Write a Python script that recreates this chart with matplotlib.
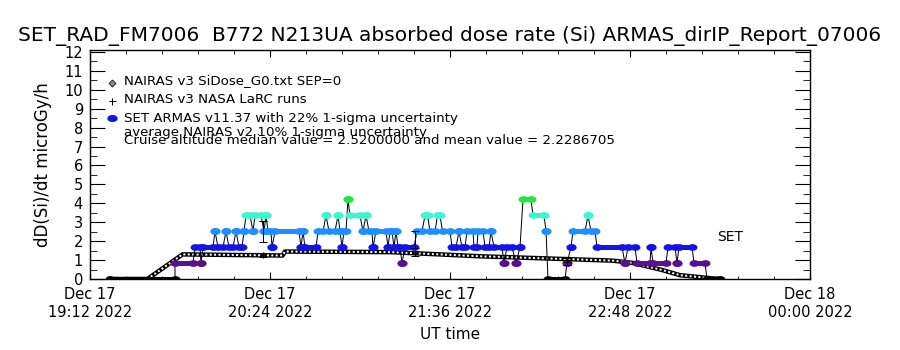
import numpy as np
import matplotlib
matplotlib.use("Agg")
import matplotlib.pyplot as plt
import matplotlib.dates as mdates
from matplotlib.path import Path
from datetime import datetime, timedelta

# ------------------------------------------------------------
# data (minutes after 2022-12-17 19:12 UT)
# ------------------------------------------------------------
t0 = datetime(2022, 12, 17, 19, 12)

# NAIRAS v3 SiDose_G0 curve
nairas_min = [7, 23, 37, 77, 78, 120, 156, 190.8, 209, 217, 229, 236, 249, 253]
nairas_val = [0, 0, 1.30, 1.24, 1.45, 1.42, 1.20, 1.05, 0.97, 0.85, 0.47, 0.20, 0.03, 0]

# ARMAS quantised dose-rate levels
armas_levels = [0.0, 0.84, 1.68, 2.52, 3.36, 4.20]
level_colors = ['black', '#5a0f91', '#1414e6', '#1f8fff', '#3ef5cf', '#27e43f']

# ARMAS runs: start minute, end minute, level index
run_start = [8, 34, 42, 44.4, 45.2, 50, 51.2, 54.4, 55.6, 58.4, 59.6, 61.6, 62.4, 65.2,
             66, 69.6, 70.4, 71.2, 72.8, 74, 84.4, 85.2, 86, 91.2, 94.4, 95.6, 99.2,
             100, 100.8, 101.6, 103.2, 104, 109.2, 110.4, 111.6, 113.2, 114.4, 119.2,
             120, 121.6, 122.4, 123.2, 124.8, 126, 130.8, 134, 136, 139, 141, 144.8,
             147.6, 148.8, 150.8, 153.6, 155.2, 158, 160.4, 161.6, 165.6, 166.8, 170.4,
             172, 173.2, 177.2, 182.4, 183.2, 190.8, 192.4, 193.2, 199.2, 200.4, 202.8,
             214, 215.2, 218.8, 224.4, 225.2, 231.2, 234.8, 235.6, 241.6, 246.8]
run_end = [34, 41.2, 44, 44.4, 49.2, 50, 53.2, 54.4, 57.2, 58.4, 60.8, 61.6, 64, 65.2,
           68.4, 69.6, 70.4, 72.4, 72.8, 83.6, 84.4, 85.2, 90.4, 93.2, 94.4, 98, 99.2,
           100, 100.8, 102.4, 103.2, 108, 109.2, 110.4, 112.8, 113.2, 118.4, 119.2,
           120.8, 121.6, 122.4, 124, 124.8, 129.6, 132.8, 135, 138, 140, 144, 146.4,
           147.6, 150, 153.2, 154.8, 157.2, 159.6, 160.4, 164.8, 165.6, 168.8, 170.4,
           172, 176.4, 181.6, 182.4, 190, 190.8, 192.4, 198, 199.2, 202, 212.8,
           214, 218, 224, 224.4, 230.4, 234, 234.8, 240.8, 246, 252]
run_level = [0, 1, 2, 1, 2, 3, 2, 3, 2, 3, 2, 3, 4, 3,
             4, 3, 4, 3, 2, 3, 2, 3, 2, 3, 4, 3, 4,
             3, 2, 3, 5, 4, 3, 4, 3, 2, 3, 2,
             3, 2, 3, 2, 1, 2, 3, 4, 3, 4, 3, 2,
             3, 2, 3, 2, 3, 2, 3, 2, 1, 2, 1,
             2, 5, 4, 3, 0, 1, 2, 3, 4, 3, 2,
             1, 2, 1, 2, 1, 2, 1, 2, 1, 0]

# hourly points with error bars
avg_min = [69.2, 130, 190.8]
armas_avg = [2.49, 2.09, 0.95]
armas_err_frac = 0.22
larc_val = [1.27, 1.35, 1.00]
larc_err_frac = 0.10


def tdate(m):
    return mdates.date2num(t0 + timedelta(minutes=m))


PX = 72 / 100.0  # points per pixel at dpi=100

fig = plt.figure(figsize=(9, 3.5), dpi=100)
ax = fig.add_axes([0.1, 0.2029, 0.8, 0.6543])

# NAIRAS curve: black band with white dots for the checkered look
nx = [tdate(m) for m in nairas_min]
ax.plot(nx, nairas_val, color='black', lw=4.5 * PX, zorder=2, solid_capstyle='butt')
ax.plot(nx, nairas_val, color='white', lw=2 * PX, ls=(0, (1, 1.2)), zorder=2)

# ARMAS: thin black connecting line + coloured ellipses
th = np.linspace(0, 2 * np.pi, 40)
ellipse = Path(np.column_stack([1.6 * np.cos(th), np.sin(th)]))

lx, ly = [], []
for s, e, k in zip(run_start, run_end, run_level):
    v = armas_levels[k]
    lx += [tdate(s), tdate(e)]
    ly += [v, v]
ax.plot(lx, ly, color='black', lw=1 * PX, zorder=3)

for s, e, k in zip(run_start, run_end, run_level):
    v = armas_levels[k]
    c = level_colors[k]
    ax.plot([tdate(s), tdate(e)], [v, v], color=c, lw=5 * PX,
            solid_capstyle='round', zorder=4)
    ax.plot([tdate(s), tdate(e)], [v, v], ls='none', marker=ellipse,
            ms=8.5 * PX, mfc=c, mec=c, zorder=4)

# error bars
ax_t = [tdate(m) for m in avg_min]
ax.errorbar(ax_t, armas_avg, yerr=[armas_err_frac * v for v in armas_avg],
            fmt='none', ecolor='black', elinewidth=1 * PX, capsize=4 * PX,
            capthick=1 * PX, zorder=5)
ax.errorbar(ax_t, larc_val, yerr=[larc_err_frac * v for v in larc_val],
            fmt='+', color='black', ms=6 * PX, elinewidth=1 * PX,
            capsize=4 * PX, capthick=1 * PX, zorder=5)

# axes
ax.set_xlim(tdate(0), tdate(288))
ax.set_ylim(0, 12.1)
ax.set_yticks(range(0, 13))
ax.set_yticks(np.arange(0.5, 12.5, 1.0), minor=True)
ax.set_xticks([tdate(m) for m in range(0, 289, 72)])
ax.set_xticks([tdate(m) for m in np.arange(0, 288.1, 14.4)], minor=True)
ax.xaxis.set_major_formatter(mdates.DateFormatter('%b %d\n%H:%M %Y'))
ax.tick_params(axis='y', which='major', direction='in', length=15 * PX,
               right=True, labelsize=10.5, pad=5)
ax.tick_params(axis='y', which='minor', direction='in', length=7 * PX, right=True)
ax.tick_params(axis='x', which='major', direction='in', length=7 * PX,
               top=True, labelsize=10.5, pad=6)
ax.tick_params(axis='x', which='minor', direction='in', length=3.5 * PX, top=True)
for sp in ax.spines.values():
    sp.set_linewidth(1.4 * PX)

ax.set_ylabel('dD(Si)/dt microGy/h', fontsize=12, labelpad=9)
ax.set_xlabel('UT time', fontsize=11, labelpad=5)

fig.text(0.5, 1 - 36 / 350, 'SET_RAD_FM7006  B772 N213UA absorbed dose rate (Si) ARMAS_dirIP_Report_07006',
         ha='center', va='center', fontsize=14.5)


# legend, drawn as free text in figure pixels
def fpos(x, y):
    return x / 900, 1 - y / 350


fig.lines.append(plt.Line2D(*zip(fpos(112, 83)), transform=fig.transFigure,
                            marker='D', ms=5 * PX, mfc='#888888', mec='black', mew=0.5))
fig.lines.append(plt.Line2D(*zip(fpos(112, 101)), transform=fig.transFigure,
                            marker='+', ms=7 * PX, color='black', mew=1 * PX))
fig.lines.append(plt.Line2D(*zip(fpos(112, 118)), transform=fig.transFigure,
                            marker=ellipse, ms=9 * PX, mfc='#1414e6', mec='#1414e6'))
legend_lines = [
    (81, 'NAIRAS v3 SiDose_G0.txt SEP=0'),
    (99, 'NAIRAS v3 NASA LaRC runs'),
    (118, 'SET ARMAS v11.37 with 22% 1-sigma uncertainty'),
    (132, 'average NAIRAS v2 10% 1-sigma uncertainty'),
    (141, 'Cruise altitude median value = 2.5200000 and mean value = 2.2286705'),
]
for y, s in legend_lines:
    fig.text(*fpos(124, y), s, ha='left', va='center', fontsize=9.6)

fig.text(*fpos(717, 237), 'SET', ha='left', va='center', fontsize=10)

fig.savefig('out.png', dpi=100)
